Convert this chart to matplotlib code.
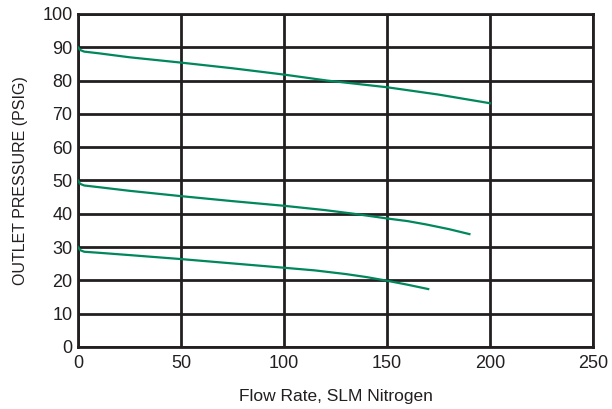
import matplotlib
matplotlib.use("Agg")
import matplotlib.pyplot as plt

plt.rcParams["font.family"] = ["Liberation Sans", "DejaVu Sans"]

# curves (flow SLM, pressure psig)
flow_90 = [0, 1, 3, 10, 25, 50, 75, 100, 121, 150, 175, 200]
pres_90 = [90, 89.2, 88.7, 88.2, 87.0, 85.4, 83.7, 81.8, 80.0, 78.0, 75.8, 73.2]

flow_50 = [0, 1, 3, 10, 25, 50, 75, 100, 120, 134, 150, 160, 169, 180, 190]
pres_50 = [50, 49.0, 48.5, 48.0, 46.9, 45.3, 43.8, 42.4, 41.1, 40.0, 38.6, 37.8, 36.8, 35.4, 33.9]

flow_30 = [0, 1, 3, 10, 25, 50, 75, 100, 115, 130, 140, 150, 160, 170]
pres_30 = [30, 29.1, 28.6, 28.3, 27.6, 26.4, 25.1, 23.8, 23.0, 21.9, 21.0, 19.9, 18.7, 17.4]

x_ticks = [0, 50, 100, 150, 200, 250]
y_ticks = [0, 10, 20, 30, 40, 50, 60, 70, 80, 90, 100]

green = "#00875C"
ink = "#231f20"

fig = plt.figure(figsize=(6.12, 4.09), dpi=100)
ax = fig.add_axes([0.1275, 0.1516, 0.8415, 0.8142])

for fx, py in [(flow_90, pres_90), (flow_50, pres_50), (flow_30, pres_30)]:
    ax.plot(fx, py, color=green, linewidth=1.6, zorder=3)

ax.set_xlim(0, 250)
ax.set_ylim(0, 100)
ax.set_xticks(x_ticks)
ax.set_yticks(y_ticks)
ax.grid(True, color=ink, linewidth=2.0, zorder=1)
for s in ax.spines.values():
    s.set_color(ink)
    s.set_linewidth(2.0)
ax.tick_params(length=0, labelsize=13, colors=ink)
ax.tick_params(axis="y", pad=4)
ax.tick_params(axis="x", pad=6)
ax.set_xlabel("Flow Rate, SLM Nitrogen", fontsize=12.5, labelpad=12, color=ink)
ax.set_ylabel("OUTLET PRESSURE (PSIG)", fontsize=11.5, labelpad=10, color=ink)

fig.savefig("out.png", dpi=100)
plt.close(fig)
